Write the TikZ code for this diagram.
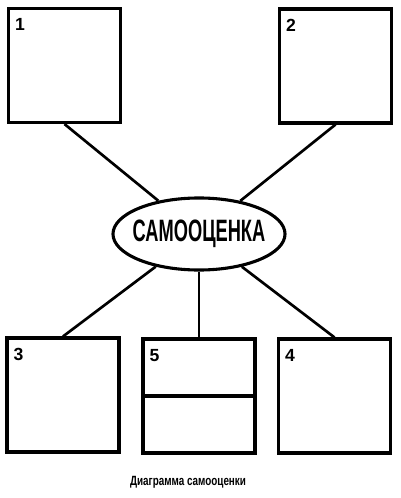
\documentclass[tikz,border=0pt]{standalone}
\usepackage{fontspec}
\usepackage{tikz}
\usetikzlibrary{positioning,shapes.geometric}
\newfontfamily\condfont[FakeStretch=0.59]{Liberation Sans}
\newfontfamily\capfont[FakeStretch=0.74]{Liberation Sans}
\newfontfamily\numfont{Liberation Sans}

\begin{document}
\begin{tikzpicture}[
        x=0.025cm, y=-0.025cm,
        node distance=0.28cm and 0.2cm,
        sqbox/.style={draw, line width=2.2pt, minimum width=2.8cm, minimum height=2.85cm, inner sep=0pt},
        centre/.style={draw, ellipse, line width=2.2pt, minimum width=4.3cm, minimum height=1.8cm, inner xsep=-0.28cm, inner ysep=0pt, font=\condfont\bfseries\fontsize{22}{24}\selectfont},
        num/.style={inner sep=0pt, font=\numfont\bfseries\fontsize{12.5}{12.5}\selectfont},
        link/.style={line width=1.9pt}
    ]
    \useasboundingbox (0,0) rectangle (400,498);

    \node[centre] (self) at (199,234) {САМООЦЕНКА};

    \node[sqbox] (b1) at (64.5,65.5) {};
    \node[sqbox] (b2) at (335.5,66) {};
    \node[sqbox] (b3) at (63,395) {};
    \node[sqbox] (b5) at (199,396) {};
    \node[sqbox] (b4) at (334.5,396) {};

    \node[num, below right=of b1.north west] (n1) {1};
    \node[num, below right=of b2.north west] (n2) {2};
    \node[num, below right=of b3.north west] (n3) {3};
    \node[num, below right=of b5.north west] (n5) {5};
    \node[num, below right=of b4.north west] (n4) {4};

    \draw[line width=2.2pt] (b5.west) -- (b5.east);

    \draw[link] (b1.south) -- (self);
    \draw[link] (b2.south) -- (self);
    \draw[link] (b3.north) -- (self);
    \draw[link] (b4.north) -- (self);
    \draw[link] (b5.north) -- (self);

    \node[font=\capfont\bfseries\fontsize{9.5}{11}\selectfont] (cap) at (188,482) {Диаграмма самооценки};
\end{tikzpicture}
\end{document}
